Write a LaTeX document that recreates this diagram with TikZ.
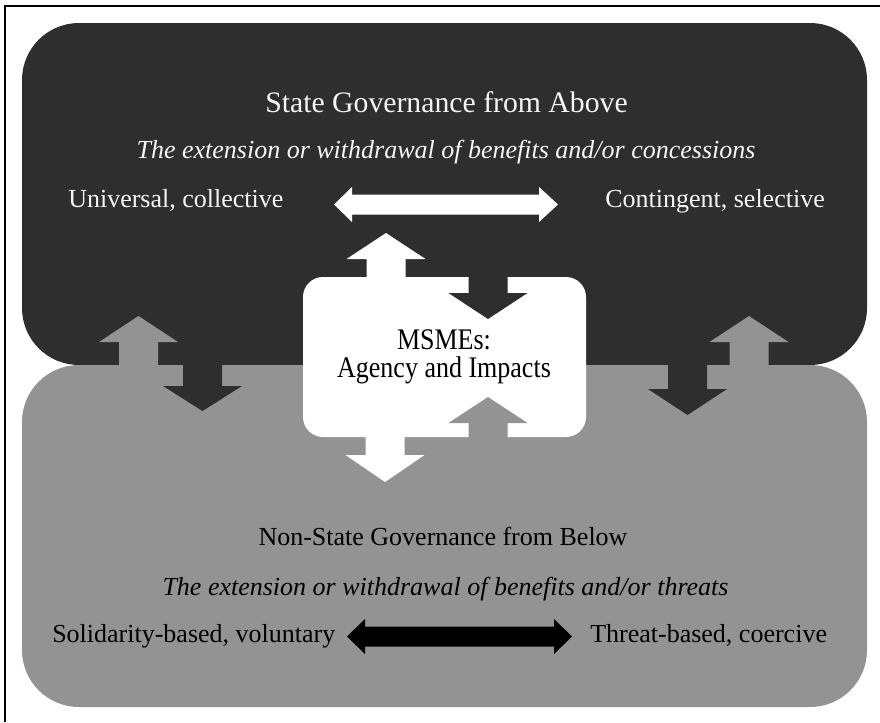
\documentclass[tikz,border=0pt]{standalone}
\usepackage{fontspec}
\setmainfont{Liberation Serif}
\usetikzlibrary{positioning, calc}

\definecolor{statedark}{RGB}{46,46,46}
\definecolor{nonstategrey}{RGB}{147,147,147}
\definecolor{lighttext}{RGB}{245,245,245}

% vertical block arrow: style, centre x, tail y, head base y, tip y
\newcommand{\vblock}[5]{%
  \fill[#1] (#2-19.5,#3) -- (#2-19.5,#4) -- (#2-39.5,#4) -- (#2,#5)
    -- (#2+39.5,#4) -- (#2+19.5,#4) -- (#2+19.5,#3) -- cycle;}
% horizontal double block arrow: style, left tip, left base, right base, right tip, centre y
\newcommand{\hblock}[6]{%
  \fill[#1] (#2,#6) -- (#3,#6-17.5) -- (#3,#6-10) -- (#4,#6-10) -- (#4,#6-17.5)
    -- (#5,#6) -- (#4,#6+17.5) -- (#4,#6+10) -- (#3,#6+10) -- (#3,#6+17.5) -- cycle;}

\begin{document}
\begin{tikzpicture}[x=0.75pt, y=-0.75pt,
    title/.style={anchor=base, inner sep=0pt, font=\fontsize{22.3}{26}\selectfont},
    label/.style={anchor=base, inner sep=0pt, font=\fontsize{19.5}{23}\selectfont},
    sublabel/.style={label, font=\fontsize{19.5}{23}\selectfont\itshape}]
    \useasboundingbox (0,0) rectangle (880,722);
    \fill[white] (0,0) rectangle (880,722);

    % Frame
    \draw[line width=1.6pt] (5,722) -- (5,6) -- (880,6);

    % Governance boxes
    \fill[statedark, rounded corners=42.75pt] (22,23) rectangle (867,365);
    \fill[nonstategrey, rounded corners=42.75pt] (22,365) rectangle (867,707);

    % Arrows between the two boxes
    \vblock{nonstategrey}{138.5}{372}{342}{316}
    \vblock{statedark}{202.5}{358}{386}{411}
    \vblock{statedark}{687.5}{358}{389}{415}
    \vblock{nonstategrey}{749}{372}{342}{316}

    % MSME box with its arrows
    \fill[white, rounded corners=15pt] (303,277) rectangle (586,437);
    \vblock{white}{386}{290}{259}{233}
    \vblock{white}{385}{425}{455}{482}
    \vblock{statedark}{488}{270}{293}{319}
    \vblock{nonstategrey}{488}{445}{423}{397}

    % Spectrum arrows
    \hblock{white}{334}{352}{539}{558}{204.5}
    \hblock{black}{347}{365}{554}{572}{636.5}

    % Texts, state side
    \node[title, lighttext] (statetitle) at (446.5,112) {State Governance from Above};
    \node[sublabel, lighttext] (statesub) at (446,158) {The extension or withdrawal of benefits and/or concessions};
    \node[label, lighttext, anchor=base west] (universal) at (68,207) {Universal, collective};
    \node[label, lighttext, anchor=base west] (contingent) at (605,207) {Contingent, selective};

    % Texts, MSMEs
    \node[label, anchor=center, align=center, yscale=1.15, transform shape,
      font=\fontsize{19.5}{18.5}\selectfont] (msme) at (444,357) {MSMEs:\\Agency and Impacts};

    % Texts, non-state side
    \node[label] (nonstatetitle) at (443,545) {Non-State Governance from Below};
    \node[sublabel] (nonstatesub) at (445.5,595) {The extension or withdrawal of benefits and/or threats};
    \node[label, anchor=base west] (solidarity) at (52,642) {Solidarity-based, voluntary};
    \node[label, anchor=base west] (threat) at (590,642) {Threat-based, coercive};
\end{tikzpicture}
\end{document}
